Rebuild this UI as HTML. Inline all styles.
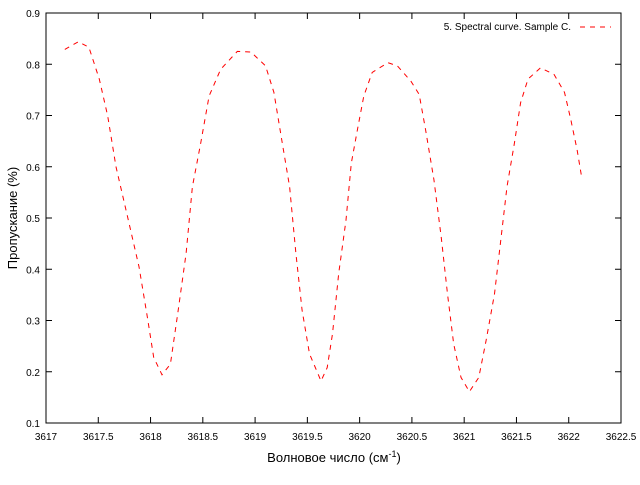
<!DOCTYPE html>
<html><head><meta charset="utf-8"><style>
body{margin:0;background:#fff;}
svg text{font-family:"Liberation Sans","DejaVu Sans",sans-serif;font-size:10px;fill:#000;}
</style></head><body>
<svg width="640" height="480" xmlns="http://www.w3.org/2000/svg">
<g id="axes"></g>
<g id="series"></g>
<text x="334" y="462" text-anchor="middle" style="font-size:13px">Волновое число (см<tspan dy="-5" style="font-size:9px">-1</tspan><tspan dy="5">)</tspan></text>
<text transform="translate(17,218) rotate(-90)" text-anchor="middle" style="font-size:13px">Пропускание (%)</text>
<g>
<text x="571" y="30" text-anchor="end">5. Spectral curve. Sample C.</text>
<line x1="580" y1="27" x2="611" y2="27" stroke="#f00" stroke-width="1" stroke-dasharray="5,5"/>
</g>
</svg>
<script>
const xTicks=[3617,3617.5,3618,3618.5,3619,3619.5,3620,3620.5,3621,3621.5,3622,3622.5];
const xTickLabels=["3617","3617.5","3618","3618.5","3619","3619.5","3620","3620.5","3621","3621.5","3622","3622.5"];
const yTicks=[0.1,0.2,0.3,0.4,0.5,0.6,0.7,0.8,0.9];
const yTickLabels=["0.1","0.2","0.3","0.4","0.5","0.6","0.7","0.8","0.9"];
const wavenumbers=[3617.18,3617.31,3617.41,3617.51,3617.59,3617.67,3617.78,3617.89,3617.97,3618.03,3618.11,3618.19,3618.26,3618.34,3618.40,3618.48,3618.56,3618.67,3618.83,3618.96,3619.10,3619.18,3619.26,3619.33,3619.39,3619.45,3619.52,3619.63,3619.69,3619.74,3619.80,3619.87,3619.92,3619.98,3620.04,3620.12,3620.27,3620.36,3620.49,3620.57,3620.63,3620.71,3620.78,3620.84,3620.90,3620.97,3621.05,3621.14,3621.21,3621.29,3621.35,3621.41,3621.48,3621.54,3621.61,3621.73,3621.86,3621.96,3622.02,3622.08,3622.12];
const transmission=[0.829,0.844,0.833,0.771,0.699,0.60,0.503,0.405,0.306,0.228,0.194,0.215,0.313,0.431,0.561,0.646,0.738,0.790,0.825,0.824,0.797,0.745,0.646,0.561,0.431,0.320,0.235,0.182,0.208,0.274,0.392,0.496,0.607,0.673,0.738,0.784,0.803,0.797,0.767,0.741,0.673,0.575,0.463,0.352,0.254,0.189,0.161,0.189,0.261,0.352,0.457,0.561,0.646,0.725,0.771,0.793,0.780,0.745,0.692,0.633,0.584];
const L=46,R=621,T=13,B=423,X0=3617,X1=3622.5,Y0=0.1,Y1=0.9;
const sx=v=>L+(v-X0)/(X1-X0)*(R-L);
const sy=v=>B-(v-Y0)/(Y1-Y0)*(B-T);
const NS="http://www.w3.org/2000/svg";
const axes=document.getElementById('axes');
function mk(tag,attrs,parent){const e=document.createElementNS(NS,tag);for(const k in attrs)e.setAttribute(k,attrs[k]);parent.appendChild(e);return e;}
const frame=mk('rect',{x:L,y:T,width:R-L,height:B-T,fill:'none',stroke:'#000','stroke-width':1},axes);


xTicks.forEach((v,i)=>{
  const x=sx(v);
  const t1=mk('line',{x1:x,y1:B,x2:x,y2:B-6,stroke:'#000'},axes);
  
  
  const t2=mk('line',{x1:x,y1:T,x2:x,y2:T+6,stroke:'#000'},axes);
  
  
  const tx=mk('text',{x:x,y:B+17,'text-anchor':'middle'},axes);
  tx.textContent=xTickLabels[i];
  
  
});
yTicks.forEach((v,i)=>{
  const y=sy(v);
  const t1=mk('line',{x1:L,y1:y,x2:L+6,y2:y,stroke:'#000'},axes);
  
  
  const t2=mk('line',{x1:R,y1:y,x2:R-6,y2:y,stroke:'#000'},axes);
  
  
  const tx=mk('text',{x:L-6,y:y+4,'text-anchor':'end'},axes);
  tx.textContent=yTickLabels[i];
  
  
});
const pts=wavenumbers.map((w,i)=>sx(w).toFixed(1)+','+sy(transmission[i]).toFixed(1)).join(' ');
const line=mk('polyline',{points:pts,fill:'none',stroke:'#f00','stroke-width':1,'stroke-dasharray':'5,5'},document.getElementById('series'));


</script>
</body></html>
